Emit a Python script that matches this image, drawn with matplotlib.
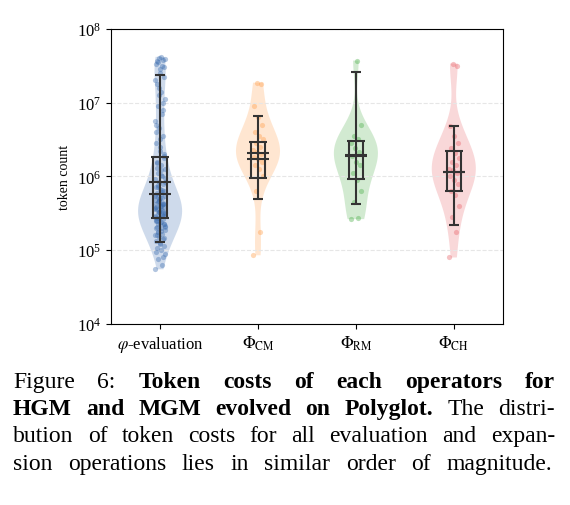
import numpy as np
import matplotlib
matplotlib.use("Agg")
import matplotlib.pyplot as plt

plt.rcParams["font.family"] = ["Liberation Serif", "DejaVu Serif"]
plt.rcParams["mathtext.fontset"] = "stix"

labels = [r"$\varphi$-evaluation", r"$\Phi_{\mathrm{CM}}$", r"$\Phi_{\mathrm{RM}}$", r"$\Phi_{\mathrm{CH}}$"]
colors = ["#3f6fb0", "#ff9f4a", "#4daf4a", "#e8646a"]

# log10 token counts
pts_eval = [4.74, 4.8, 4.88, 4.95, 5.0, 5.03, 5.06, 5.1, 5.12, 5.15, 5.18, 5.2, 5.22, 5.25,
            5.27, 5.3, 5.32, 5.35, 5.37, 5.4, 5.42, 5.44, 5.46, 5.48, 5.5, 5.52, 5.54, 5.56,
            5.58, 5.6, 5.62, 5.64, 5.66, 5.68, 5.7, 5.72, 5.74, 5.76, 5.78, 5.8, 5.83, 5.86,
            5.9, 5.93, 5.96, 6.0, 6.05, 6.1, 6.15, 6.2, 6.27, 6.35, 6.45, 6.55, 6.65, 6.75,
            6.85, 6.95, 7.05, 7.15, 7.25, 7.35, 7.45, 7.52, 7.58, 7.6, 5.45, 5.55, 5.65,
            5.5, 5.6, 5.4, 5.35, 5.7, 5.3, 5.62, 5.52, 5.57, 5.47, 5.25,
            5.33, 5.38, 5.43, 5.49, 5.53, 5.59, 5.63, 5.67, 5.73, 5.79, 5.85, 5.92, 6.02,
            6.12, 6.25, 6.4, 6.6, 6.9, 7.1, 7.3, 7.5, 7.55, 7.59, 7.62, 7.56, 7.48, 7.4,
            5.41, 5.46, 5.51, 5.56, 5.61, 5.36, 5.31, 5.26, 5.21, 5.16, 5.08, 4.98, 4.9,
            5.69, 5.75, 5.81, 5.88, 5.98, 6.08, 6.18, 6.3, 6.5, 6.7, 7.0, 7.2]
pts_cm = [4.93, 5.25, 5.8, 6.0, 6.1, 6.15, 6.2, 6.23, 6.26, 6.3, 6.33, 6.36, 6.4, 6.45,
          6.5, 6.55, 6.6, 6.7, 6.8, 6.95, 7.25, 7.27]
pts_rm = [5.42, 5.44, 5.65, 5.8, 5.95, 6.05, 6.15, 6.2, 6.28, 6.33, 6.38, 6.45, 6.5,
          6.55, 6.7, 7.57]
pts_ch = [4.9, 5.25, 5.45, 5.6, 5.75, 5.8, 5.9, 5.95, 6.0, 6.05, 6.08, 6.1, 6.15, 6.2,
          6.25, 6.32, 6.38, 6.45, 6.55, 6.68, 7.5, 7.53]
groups = [pts_eval, pts_cm, pts_rm, pts_ch]
bws = [0.3, 0.45, 0.45, 0.45]

whisk_lo = [1.3e5, 5.0e5, 4.2e5, 2.2e5]
whisk_hi = [2.4e7, 6.5e6, 2.6e7, 4.8e6]
q1 = [2.7e5, 9.5e5, 9.3e5, 6.3e5]
q3 = [1.85e6, 2.9e6, 3.0e6, 2.2e6]
median = [5.7e5, 1.7e6, 1.9e6, 1.15e6]
mean = [8.3e5, 2.1e6, 1.95e6, 1.15e6]

fig = plt.figure(figsize=(5.7, 5.06), dpi=100)
ax = fig.add_axes([0.195, 0.358, 0.687, 0.583])
ax.set_yscale("log")
ax.set_ylim(1e4, 1e8)
ax.set_xlim(-0.5, 3.5)

for i, (g, c) in enumerate(zip(groups, colors)):
    vp = ax.violinplot([g], positions=[i], widths=0.45, showextrema=False, bw_method=bws[i])
    for body in vp["bodies"]:
        body.set_facecolor(c)
        body.set_alpha(0.25)
        body.set_edgecolor("none")
        # violin computed in log10 space
        v = body.get_paths()[0].vertices
        v[:, 1] = 10 ** v[:, 1]
    n = len(g)
    jit = (((np.arange(n) * 7) % 11) / 10.0 - 0.5) * 0.1
    ax.scatter(i + jit, 10 ** np.array(g), s=14, color=c, alpha=0.4, lw=0, zorder=3)

    k = "#333333"
    ax.vlines(i, whisk_lo[i], whisk_hi[i], color=k, lw=1.5, zorder=4)
    for y, w in [(whisk_lo[i], 0.05), (whisk_hi[i], 0.05), (q1[i], 0.09), (q3[i], 0.09),
                 (median[i], 0.11), (mean[i], 0.11)]:
        ax.hlines(y, i - w, i + w, color=k, lw=1.5, zorder=4)
    ax.vlines([i - 0.07, i + 0.07], q1[i], q3[i], color=k, lw=1.5, zorder=4)

ax.set_xticks(range(4))
ax.set_xticklabels(labels, fontsize=12)
ax.tick_params(axis="y", labelsize=12)
ax.set_ylabel("token count", fontsize=10)
ax.yaxis.grid(True, ls="--", color="#e6e6e6", lw=0.8)
ax.minorticks_off()
ax.set_xticks(range(4))

caption = [
    [("Figure", 0), ("6:", 0), ("Token", 1), ("costs", 1), ("of", 1), ("each", 1), ("operators", 1), ("for", 1)],
    [("HGM", 1), ("and", 1), ("MGM", 1), ("evolved", 1), ("on", 1), ("Polyglot.", 1), ("The", 0), ("distri-", 0)],
    [("bution", 0), ("of", 0), ("token", 0), ("costs", 0), ("for", 0), ("all", 0), ("evaluation", 0), ("and", 0), ("expan-", 0)],
    [("sion", 0), ("operations", 0), ("lies", 0), ("in", 0), ("similar", 0), ("order", 0), ("of", 0), ("magnitude.", 0)],
]
x0, x1 = 13, 555
ys = [383, 410, 437, 465]
r = fig.canvas.get_renderer()
for li, (line, yp) in enumerate(zip(caption, ys)):
    texts = [fig.text(0, 1 - yp / 506, w, fontsize=17, va="center",
                      fontweight="bold" if b else "normal") for w, b in line]
    widths = [t.get_window_extent(r).width for t in texts]
    last = li == len(caption) - 1
    right = 552 if last else x1
    gap = (right - x0 - sum(widths)) / (len(texts) - 1)
    x = x0
    for t, w in zip(texts, widths):
        t.set_x(x / 570)
        x += w + gap

fig.savefig("out.png", dpi=100)
